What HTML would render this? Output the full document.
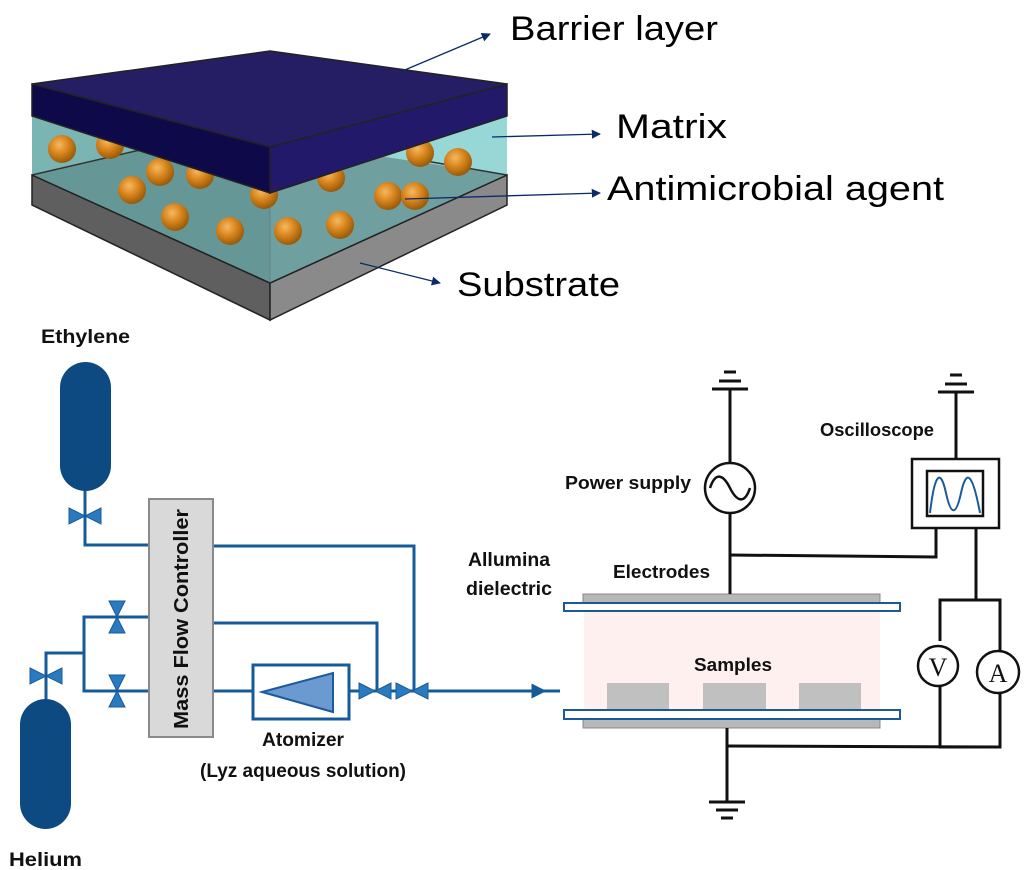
<!DOCTYPE html>
<html><head><meta charset="utf-8"><style>html,body{margin:0;padding:0;background:#fff}svg{display:block}</style></head>
<body>
<svg width="1024" height="870" viewBox="0 0 1024 870" xmlns="http://www.w3.org/2000/svg" font-family="Liberation Sans, sans-serif">
<defs>
<radialGradient id="ball" cx="0.4" cy="0.35" r="0.65">
<stop offset="0" stop-color="#f7b860"/><stop offset="0.5" stop-color="#d8861e"/><stop offset="1" stop-color="#9a5a08"/></radialGradient>
<marker id="ah" viewBox="0 0 10 10" refX="9" refY="5" markerWidth="7" markerHeight="7" orient="auto"><path d="M0,0L10,5L0,10z" fill="#0b2a6a"/></marker>
<marker id="ab" viewBox="0 0 10 10" refX="9" refY="5" markerWidth="5" markerHeight="5" orient="auto"><path d="M0,0L10,5L0,10z" fill="#155b9a"/></marker>
</defs>
<!-- substrate -->
<polygon points="32,175 270,283 270,320 32,205" fill="#5f5f5f" stroke="#222" stroke-width="1.5"/>
<polygon points="270,283 507,175 507,205 270,320" fill="#8a8a8a" stroke="#222" stroke-width="1.5"/>
<!-- matrix -->
<polygon points="32,116 507,116 507,175 270,283 32,175" fill="#97d8d6"/>
<polygon points="32,175 140,150 270,140 507,175 270,283" fill="#6f9f9f"/>
<polygon points="32,175 270,283 270,193 32,116" fill="#5e8f8f" opacity="0.5"/>
<line x1="32" y1="175" x2="140" y2="150" stroke="#333" stroke-width="1.5"/>
<line x1="420" y1="160" x2="507" y2="175" stroke="#333" stroke-width="1.5"/>
<polyline points="32,175 270,283 507,175" fill="none" stroke="#222" stroke-width="1.5"/>
<line x1="270" y1="193" x2="270" y2="283" stroke="#557" stroke-width="0.8" opacity="0.4"/>
<g fill="url(#ball)">
<circle cx="62" cy="149" r="14"/><circle cx="110" cy="145" r="14"/><circle cx="160" cy="172" r="14"/><circle cx="200" cy="175" r="14"/>
<circle cx="132" cy="190" r="14"/><circle cx="175" cy="217" r="14"/><circle cx="230" cy="231" r="14"/><circle cx="264" cy="195" r="14"/>
<circle cx="288" cy="231" r="14"/><circle cx="331" cy="178" r="14"/><circle cx="340" cy="225" r="14"/><circle cx="388" cy="196" r="14"/>
<circle cx="415" cy="196" r="14"/><circle cx="420" cy="153" r="14"/><circle cx="458" cy="162" r="14"/></g>
<!-- barrier -->
<polygon points="32,84 270,147 270,193 32,116" fill="#0e0a4a" stroke="#222" stroke-width="1.5"/>
<polygon points="270,147 507,84 507,116 270,193" fill="#22196a" stroke="#222" stroke-width="1.5"/>
<polygon points="32,84 270,51 507,84 270,147" fill="#251e64" stroke="#222" stroke-width="1.5"/>
<!-- label arrows -->
<g stroke="#0b2a6a" stroke-width="1.3" marker-end="url(#ah)">
<line x1="400" y1="72" x2="490" y2="34"/><line x1="492" y1="137" x2="600" y2="134"/><line x1="405" y1="199" x2="600" y2="193"/><line x1="360" y1="263" x2="440" y2="283"/></g>
<g font-size="34" fill="#000">
<text x="510" y="40" textLength="208" lengthAdjust="spacingAndGlyphs">Barrier layer</text>
<text x="616" y="138" textLength="111" lengthAdjust="spacingAndGlyphs">Matrix</text>
<text x="607" y="200" textLength="337" lengthAdjust="spacingAndGlyphs">Antimicrobial agent</text>
<text x="457" y="296" textLength="163" lengthAdjust="spacingAndGlyphs">Substrate</text></g>

<!-- gas system -->
<g font-weight="bold" font-size="19" fill="#111">
<text x="41" y="343" textLength="89" lengthAdjust="spacingAndGlyphs">Ethylene</text>
<text x="9" y="866" textLength="73" lengthAdjust="spacingAndGlyphs">Helium</text>
<text x="468" y="566" textLength="82" lengthAdjust="spacingAndGlyphs">Allumina</text>
<text x="466" y="595" textLength="86" lengthAdjust="spacingAndGlyphs">dielectric</text>
<text x="303" y="746" text-anchor="middle" textLength="82" lengthAdjust="spacingAndGlyphs">Atomizer</text>
<text x="303" y="777" text-anchor="middle" textLength="206" lengthAdjust="spacingAndGlyphs">(Lyz aqueous solution)</text>
</g>
<rect x="60" y="362" width="51" height="129" rx="25.5" fill="#0d4a82"/>
<rect x="20" y="699" width="51" height="130" rx="25.5" fill="#0d4a82"/>
<g fill="none" stroke="#155b9a" stroke-width="3">
<polyline points="85,491 85,545 149,545"/>
<polyline points="213,546 414,546 414,691"/>
<polyline points="213,623 377,623 377,691"/>
<line x1="213" y1="691" x2="253" y2="691"/>
<line x1="349" y1="691" x2="545" y2="691" marker-end="url(#ab)"/>
<polyline points="46,699 46,653 84,653"/>
<polyline points="149,617 84,617 84,691 149,691"/>
<rect x="253" y="665" width="96" height="54"/>
</g>
<line x1="540" y1="691" x2="560" y2="691" stroke="#155b9a" stroke-width="3"/>
<rect x="149" y="499" width="64" height="238" fill="#d9d9d9" stroke="#8a8a8a" stroke-width="2"/>
<text transform="translate(188,619) rotate(-90)" text-anchor="middle" font-weight="bold" font-size="20" fill="#111" textLength="220" lengthAdjust="spacingAndGlyphs">Mass Flow Controller</text>
<polygon points="262,692 333,673 333,712" fill="#6a9ad0" stroke="#1a5aa0" stroke-width="2"/>
<g fill="#2a7ac0" stroke="#1a5a9a" stroke-width="1">
<path d="M69,508 L85,516 L69,524 Z M101,508 L85,516 L101,524 Z"/>
<path d="M30,668 L46,676 L30,684 Z M62,668 L46,676 L62,684 Z"/>
<path d="M109,601 L117,617 L125,601 Z M109,633 L117,617 L125,633 Z"/>
<path d="M109,675 L117,691 L125,675 Z M109,707 L117,691 L125,707 Z"/>
<path d="M359,683 L375,691 L359,699 Z M391,683 L375,691 L391,699 Z"/>
<path d="M396,683 L412,691 L396,699 Z M428,683 L412,691 L428,699 Z"/>
</g>

<!-- plasma setup -->
<rect x="584" y="611" width="296" height="98" fill="#fdf0ef"/>
<g fill="#c0c0c0"><rect x="607" y="683" width="62" height="26"/><rect x="703" y="683" width="63" height="26"/><rect x="799" y="683" width="62" height="26"/></g>
<rect x="583" y="594" width="297" height="9" fill="#b8b8b8" stroke="#888" stroke-width="1"/>
<rect x="583" y="719" width="297" height="9" fill="#b8b8b8" stroke="#888" stroke-width="1"/>
<rect x="564" y="603" width="336" height="8" fill="#fff" stroke="#1a5a9a" stroke-width="2"/>
<rect x="564" y="710" width="336" height="9" fill="#fff" stroke="#1a5a9a" stroke-width="2"/>
<g stroke="#111" stroke-width="3" fill="none">
<line x1="730" y1="389" x2="730" y2="463"/><line x1="730" y1="513" x2="730" y2="594"/>
<polyline points="730,555 936,557 936,528"/>
<line x1="956" y1="392" x2="956" y2="459"/>
<polyline points="976,528 976,600"/>
<polyline points="940,641 940,600 1000,600 1000,651"/>
<polyline points="940,687 940,747 1000,747 1000,693"/>
<polyline points="727,728 727,802"/><line x1="727" y1="746" x2="1000" y2="747"/>
<line x1="712" y1="389" x2="748" y2="389"/><line x1="719" y1="381" x2="741" y2="381"/><line x1="724" y1="372" x2="736" y2="372"/>
<line x1="938" y1="392" x2="974" y2="392"/><line x1="945" y1="384" x2="967" y2="384"/><line x1="950" y1="375" x2="962" y2="375"/>
<line x1="709" y1="802" x2="745" y2="802"/><line x1="716" y1="810" x2="738" y2="810"/><line x1="721" y1="818" x2="733" y2="818"/>
</g>
<circle cx="730" cy="488" r="25" fill="#fff" stroke="#111" stroke-width="2.5"/>
<path d="M710,488 C716,470 724,476 730,488 C736,500 744,506 750,488" fill="none" stroke="#111" stroke-width="2.5"/>
<rect x="912" y="459" width="87" height="69" fill="#fff" stroke="#111" stroke-width="2.5"/>
<rect x="927" y="471" width="56" height="45" fill="#fff" stroke="#111" stroke-width="2.5"/>
<path d="M930,513 C935,470 941,470 946,493 C951,516 956,516 961,493 C966,470 972,470 980,513" fill="none" stroke="#1a5a9a" stroke-width="2"/>
<circle cx="938" cy="666" r="20" fill="#fff" stroke="#111" stroke-width="2.5"/>
<circle cx="998" cy="672" r="21" fill="#fff" stroke="#111" stroke-width="2.5"/>
<g font-family="Liberation Serif, serif" font-size="26" text-anchor="middle" fill="#111"><text x="938" y="676">V</text><text x="998" y="682">A</text></g>
<g font-weight="bold" font-size="18" fill="#111">
<text x="565" y="489" textLength="126" lengthAdjust="spacingAndGlyphs">Power supply</text>
<text x="820" y="436" textLength="114" lengthAdjust="spacingAndGlyphs">Oscilloscope</text>
<text x="613" y="578" textLength="97" lengthAdjust="spacingAndGlyphs">Electrodes</text>
<text x="694" y="671" textLength="78" lengthAdjust="spacingAndGlyphs">Samples</text>
</g>
</svg>
</body></html>
